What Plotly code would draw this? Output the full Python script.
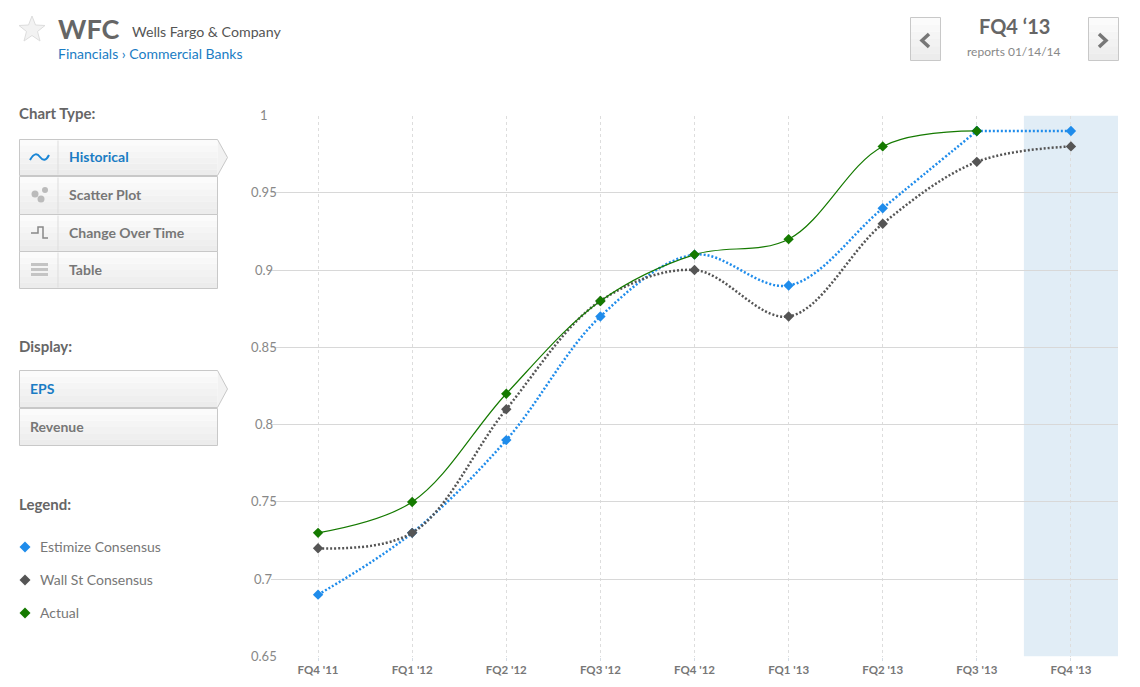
import plotly.graph_objects as go

W, H = 1140, 687

quarters = ["FQ4 '11", "FQ1 '12", "FQ2 '12", "FQ3 '12", "FQ4 '12", "FQ1 '13", "FQ2 '13", "FQ3 '13", "FQ4 '13"]
estimize = [0.69, 0.73, 0.79, 0.87, 0.91, 0.89, 0.94, 0.99, 0.99]
wall_st = [0.72, 0.73, 0.81, 0.88, 0.90, 0.87, 0.93, 0.97, 0.98]
actual = [0.73, 0.75, 0.82, 0.88, 0.91, 0.92, 0.98, 0.99, None]
y_ticks = [0.65, 0.7, 0.75, 0.8, 0.85, 0.9, 0.95, 1]
y_labels = ["0.65", "0.7", "0.75", "0.8", "0.85", "0.9", "0.95", "1"]

chart_types = ["Historical", "Scatter Plot", "Change Over Time", "Table"]
displays = ["EPS", "Revenue"]
legend_names = ["Estimize Consensus", "Wall St Consensus", "Actual"]

BLUE = "#1f8ceb"
GREY = "#555555"
GREEN = "#157a00"
LINK = "#1a7cc4"
FONT = "Lato, 'Open Sans', sans-serif"

fig = go.Figure()


def add_series(xs, vals, color, dash, width):
    fig.add_trace(go.Scatter(
        x=xs, y=vals, mode="lines+markers",
        line=dict(color=color, width=width, dash=dash, shape="spline", smoothing=1.0),
        marker=dict(symbol="diamond", size=8, color=color),
        cliponaxis=False, hoverinfo="skip", showlegend=False,
        xaxis="x", yaxis="y",
    ))


# blue goes flat after FQ3 '13, drawn in two pieces so the spline doesn't overshoot
add_series(quarters[:8], estimize[:8], BLUE, "2px,2px", 2.5)
add_series(quarters[7:], estimize[7:], BLUE, "2px,2px", 2.5)
add_series(quarters, wall_st, GREY, "2px,2px", 2.5)
add_series(quarters, actual, GREEN, "solid", 1.2)

# invisible pixel axes for the page furniture around the chart
fig.add_trace(go.Scatter(x=[0], y=[0], mode="markers", marker=dict(opacity=0),
                         xaxis="x2", yaxis="y2", showlegend=False, hoverinfo="skip"))

shapes = []
notes = []


def px_text(x, y, text, size=13, color="#666666", bold=False, anchor="left"):
    notes.append(dict(
        xref="x2", yref="y2", x=x, y=y, text=f"<b>{text}</b>" if bold else text,
        showarrow=False, xanchor=anchor, yanchor="middle",
        xshift=-2 if anchor == "left" else 0,
        font=dict(family=FONT, size=size, color=color),
    ))


def px_shape(path=None, fill=None, line=None, lw=1):
    shapes.append(dict(
        type="path", path=path, xref="x2", yref="y2", layer="below",
        fillcolor=fill or "rgba(0,0,0,0)",
        line=dict(color=line or "rgba(0,0,0,0)", width=lw if line else 0),
    ))


def rect_path(x0, y0, x1, y1):
    return f"M{x0},{y0}L{x1},{y0}L{x1},{y1}L{x0},{y1}Z"


def button(x0, y0, x1, y1, arrow=False):
    # no gradient fill for shapes, so stack a few strips
    cols = ["#fbfbfb", "#f8f8f8", "#f5f5f5", "#f2f2f2", "#efefef", "#ececec"]
    n = len(cols)
    step = (y1 - y0) / n
    ymid = (y0 + y1) / 2
    if arrow:
        px_shape(f"M{x1},{y0}L{x1+10},{ymid}L{x1},{y1}Z", fill="#f2f2f2")
    for i, c in enumerate(cols):
        px_shape(rect_path(x0, y0 + i * step, x1, y0 + (i + 1) * step), fill=c)
    if arrow:
        px_shape(f"M{x0},{y1}L{x0},{y0}L{x1},{y0}L{x1+10},{ymid}L{x1},{y1}Z", line="#c8c8c8")
    else:
        px_shape(rect_path(x0, y0, x1, y1), line="#c8c8c8")


# header
px_shape("M32,16L35.5,25L45,25.5L37.5,31.5L40,41L32,35.5L24,41L26.5,31.5L19,25.5L28.5,25Z",
         fill="#f2f2f2", line="#dddddd")
px_text(58, 28, "WFC", size=27, color="#666666", bold=True)
px_text(132, 31.5, "Wells Fargo &amp; Company", size=14.2, color="#555555")
px_text(58, 53.5, "Financials › Commercial Banks", size=14, color=LINK)

# quarter switcher
button(910.5, 17.5, 940.5, 60.5)
button(1088.5, 17.5, 1118.5, 60.5)
px_shape("M929,34L922,40.5L929,47", line="#777777", lw=3.5)
px_shape("M1099,34L1106,40.5L1099,47", line="#777777", lw=3.5)
px_text(1014, 25.5, quarters[-1].replace("'", "‘"), size=20, color="#666666", bold=True, anchor="center")
px_text(1014, 51, "reports 01/14/14", size=12, color="#888888", anchor="center")

# chart type menu
px_text(19, 112.5, "Chart Type:", size=15, color="#666666", bold=True)
tops = [139.5, 176.5, 214.5, 251.5]
bottoms = [175.5, 214.5, 251.5, 288.5]
for i, label in enumerate(chart_types):
    button(19.5, tops[i], 217.5, bottoms[i], arrow=i == 0)
    px_shape(f"M58,{tops[i]+1}L58,{bottoms[i]-1}", line="#dddddd")
    px_text(69, (tops[i] + bottoms[i]) / 2 - 1, label, size=14, color=LINK if i == 0 else "#777777", bold=True)
px_shape("M30,160C34,153 37,153 40,157C43,161 46,161 49,155", line="#1a86d6", lw=2)
for cx, cy, r in [(35, 194, 3.5), (45, 190, 3), (41, 199, 3.5)]:
    shapes.append(dict(type="circle", xref="x2", yref="y2", layer="below",
                       x0=cx - r, x1=cx + r, y0=cy - r, y1=cy + r,
                       fillcolor="#bbbbbb", line=dict(width=0)))
px_shape("M31,233L38,233L38,227L43,227L43,238L48,238", line="#888888", lw=1.5)
for yy in [264.5, 269.5, 274.5]:
    px_shape(rect_path(31, yy - 1.5, 48, yy + 1.5), fill="#c4c4c4")

# display menu
px_text(19, 345.5, "Display:", size=15, color="#666666", bold=True)
disp_tops = [370.5, 408.5]
disp_bottoms = [407.5, 445.5]
for i, label in enumerate(displays):
    button(19.5, disp_tops[i], 217.5, disp_bottoms[i], arrow=i == 0)
    px_text(30, (disp_tops[i] + disp_bottoms[i]) / 2 - 0.5, label, size=14, color=LINK if i == 0 else "#777777", bold=True)

# legend
px_text(19, 503.5, "Legend:", size=15, color="#666666", bold=True)
for name, color, yy in zip(legend_names, [BLUE, GREY, GREEN], [547, 580, 613]):
    px_shape(f"M25,{yy-5.5}L30.5,{yy}L25,{yy+5.5}L19.5,{yy}Z", fill=color)
    px_text(40, yy - 1, name, size=14, color="#777777")

# y labels sit centred on a fixed column, so they are notes rather than ticks
for val, lab in zip(y_ticks, y_labels):
    notes.append(dict(
        xref="x2", yref="y", x=263.5, y=val, text=lab, showarrow=False,
        xanchor="center", yanchor="middle", yshift=0.5,
        font=dict(family=FONT, size=13, color="#888888"),
    ))

# highlighted upcoming quarter
shapes.append(dict(type="rect", xref="x", yref="y", layer="below",
                   x0=7.5, x1=8.5, y0=0.65, y1=1, fillcolor="#e1edf6", line=dict(width=0)))

fig.update_layout(
    width=W, height=H, autosize=False,
    margin=dict(l=0, r=0, t=0, b=0),
    paper_bgcolor="white", plot_bgcolor="rgba(0,0,0,0)",
    font=dict(family=FONT),
    showlegend=False,
    shapes=shapes, annotations=notes,
    xaxis=dict(
        domain=[271 / W, 1118 / W], type="category", categoryorder="array", categoryarray=quarters,
        range=[-0.5, 8.5], showgrid=True, gridcolor="#dddddd", griddash="dot", gridwidth=1,
        showline=False, zeroline=False, ticks="outside", ticklen=3, tickcolor="#d5dde5",
        tickfont=dict(family=FONT, size=11.5, color="#777777", weight="bold"),
    ),
    yaxis=dict(
        domain=[1 - 656.5 / H, 1 - 115.5 / H], range=[0.65, 1], tickvals=y_ticks,
        showticklabels=False, showgrid=True, gridcolor="#d8d8d8", gridwidth=1,
        zeroline=False, showline=False, ticks="",
    ),
    xaxis2=dict(domain=[0, 1], range=[0, W], visible=False, fixedrange=True, anchor="y2"),
    yaxis2=dict(domain=[0, 1], range=[H, 0], visible=False, fixedrange=True, anchor="x2"),
)

fig.write_html("out.html", config=dict(displayModeBar=False),
               post_script="document.body.style.margin='0';")
